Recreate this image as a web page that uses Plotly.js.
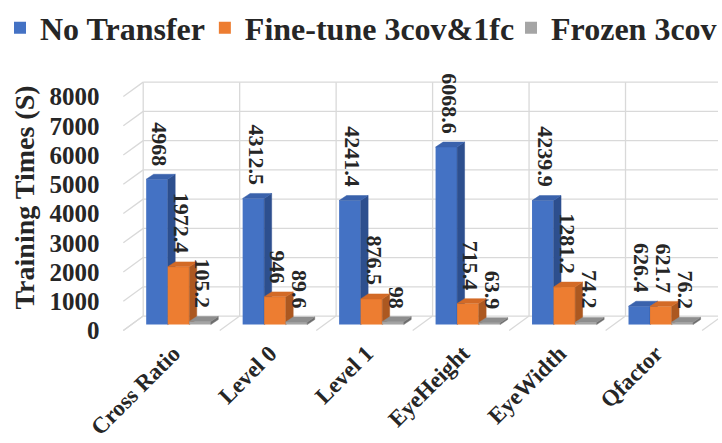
<!DOCTYPE html>
<html>
<head>
<meta charset="utf-8">
<script src="https://cdn.plot.ly/plotly-3.0.1.min.js"></script>
<style>
  html, body { margin: 0; padding: 0; background: #ffffff; }
  #chart { width: 722px; height: 443px; }
</style>
</head>
<body>
<div id="chart"></div>
<script>
// ---- data ----
const categories = ['Cross Ratio', 'Level 0', 'Level 1', 'EyeHeight', 'EyeWidth', 'Qfactor'];
const noTransfer = [4968, 4312.5, 4241.4, 6068.6, 4239.9, 626.4];
const fineTune   = [1972.4, 946, 876.5, 715.4, 1281.2, 621.7];
const frozen     = [105.2, 89.6, 98, 63.9, 74.2, 76.2];
const seriesNames = ['No Transfer', 'Fine-tune 3cov&1fc', 'Frozen 3cov'];
const yTickVals   = [0, 1000, 2000, 3000, 4000, 5000, 6000, 7000, 8000];
const yTickLabels = ['0', '1000', '2000', '3000', '4000', '5000', '6000', '7000', '8000'];

// ---- look ----
const W = 722, H = 443;
const FONT = '"Liberation Serif", "Times New Roman", serif';
const TEXT = '#262626';
const GRID = '#d9d9d9';
const faces = [
  { front: '#4472c4', side: '#2d4f8e', top: '#3a62ac' },
  { front: '#ed7d31', side: '#ac5820', top: '#d36a26' },
  { front: '#a5a5a5', side: '#6e6e6e', top: '#8e8e8e' }
];

// 3-D box geometry (pixels): category pitch, value scale, projected depth
const CAT_PX = 97;
const UNIT_PX = 235 / 8000;
const ORIGIN_X = 179.5;   // centre of first category on the bar plane
const ORIGIN_Y = 324;     // value 0 on the bar plane
const PLOT_LEFT = 105;
const BAR_DEPTH = { x: 7.5, y: 5 };
const WALL_BACK = { x: 13, y: 8.5 };
const WALL_FRONT = { x: -7, y: -6 };
const GROUP = 0.67;
const BW = GROUP / 3;

const toX = px => (px - ORIGIN_X) / CAT_PX;
const toY = py => (ORIGIN_Y - py) / UNIT_PX;
const dX = px => px / CAT_PX;
const dY = px => px / UNIT_PX;

const xRange = [toX(PLOT_LEFT), toX(W)];
const yRange = [toY(H), toY(0)];
const idx = categories.map((_, i) => i);
const series = [noTransfer, fineTune, frozen];

// ---- traces: front face as bars, side and top faces as filled polygons ----
const traces = [];
series.forEach((vals, s) => {
  const xa = s === 0 ? 'x' : 'x' + (s + 1);
  const ya = s === 0 ? 'y' : 'y' + (s + 1);
  const off = -GROUP / 2 + s * BW;
  const ddx = dX(BAR_DEPTH.x), ddy = dY(BAR_DEPTH.y);

  traces.push({
    type: 'bar', x: idx, y: vals, width: BW, offset: off,
    name: seriesNames[s], xaxis: xa, yaxis: ya,
    legend: s === 0 ? 'legend' : 'legend' + (s + 1),
    marker: { color: faces[s].front, line: { width: 0 } },
    hovertemplate: '%{y}<extra>' + seriesNames[s] + '</extra>'
  });

  const sx = [], sy = [], tx = [], ty = [];
  vals.forEach((v, i) => {
    const xl = i + off, xr = xl + BW;
    sx.push(xr, xr + ddx, xr + ddx, xr, xr, null);
    sy.push(0, ddy, v + ddy, v, 0, null);
    tx.push(xl, xl + ddx, xr + ddx, xr, xl, null);
    ty.push(v, v + ddy, v + ddy, v, v, null);
  });
  traces.push({
    type: 'scatter', mode: 'lines', x: sx, y: sy, xaxis: xa, yaxis: ya,
    fill: 'toself', fillcolor: faces[s].side,
    line: { width: 0.5, color: faces[s].side },
    showlegend: false, hoverinfo: 'skip'
  });
  traces.push({
    type: 'scatter', mode: 'lines', x: tx, y: ty, xaxis: xa, yaxis: ya,
    fill: 'toself', fillcolor: faces[s].top,
    line: { width: 0.5, color: faces[s].top },
    showlegend: false, hoverinfo: 'skip'
  });
});

// ---- walls: back-wall grid, left-wall and floor depth lines ----
const shapes = [];
const line = (x0, y0, x1, y1) => ({
  type: 'line', xref: 'x', yref: 'y', layer: 'below',
  x0, y0, x1, y1, line: { color: GRID, width: 1.3 }
});
const bx = dX(WALL_BACK.x), by = dY(WALL_BACK.y);
const fx = dX(WALL_FRONT.x), fy = dY(WALL_FRONT.y);
const yTop = yTickVals[yTickVals.length - 1];
yTickVals.forEach(v => {
  shapes.push(line(-0.5 + bx, v + by, xRange[1], v + by));
  shapes.push(line(-0.5 + fx, v + fy, -0.5 + bx, v + by));
});
for (let b = -0.5; b <= categories.length - 0.5; b += 1) {
  shapes.push(line(b + bx, by, b + bx, yTop + by));
  shapes.push(line(b + fx, fy, b + bx, by));
}

// ---- value labels ----
const annotations = [];
series.forEach((vals, s) => {
  const off = -GROUP / 2 + s * BW;
  vals.forEach((v, i) => {
    annotations.push({
      xref: 'x', yref: 'y', x: i + off + BW / 2 + dX(3), y: v,
      yshift: 11, text: '<b>' + String(v) + '</b>', textangle: 90, showarrow: false,
      xanchor: 'center', yanchor: 'bottom',
      font: { family: FONT, size: 22, color: TEXT }
    });
  });
});
annotations.push({
  xref: 'paper', yref: 'paper', x: 25 / W, y: (H - 196.5) / H,
  text: '<b>Training Times (S)</b>', textangle: -90, showarrow: false,
  xanchor: 'center', yanchor: 'middle',
  font: { family: FONT, size: 28, color: TEXT }
});

const hidden = { visible: false, fixedrange: true };
const legendFont = { family: FONT, size: 32, color: TEXT, weight: 'bold' };
const legendBase = { orientation: 'h', bgcolor: 'rgba(0,0,0,0)', font: legendFont,
                     xanchor: 'left', yanchor: 'middle', y: (H - 26) / H };

const layout = {
  width: W, height: H,
  font: { family: FONT, color: TEXT, weight: 'bold' },
  margin: { l: 0, r: 0, t: 0, b: 0 },
  paper_bgcolor: '#ffffff', plot_bgcolor: 'rgba(0,0,0,0)',
  xaxis: {
    domain: [PLOT_LEFT / W, 1], range: xRange, fixedrange: true,
    showgrid: false, zeroline: false, showline: false, ticks: '',
    tickvals: idx, ticktext: categories.map(c => '<b>' + c + '</b>'), tickangle: -45,
    anchor: 'free', position: (H - 334) / H, ticklabelshift: -5,
    tickfont: { family: FONT, size: 23, color: TEXT }
  },
  yaxis: {
    domain: [0, 1], range: yRange, fixedrange: true,
    showgrid: false, zeroline: false, showline: false, ticks: '',
    tickvals: yTickVals, ticktext: yTickLabels.map(t => '<b>' + t + '</b>'),
    ticklabelstandoff: 4, ticklabelshift: 6,
    tickfont: { family: FONT, size: 25, color: TEXT }
  },
  xaxis2: Object.assign({ overlaying: 'x', anchor: 'y2', range: xRange }, hidden),
  yaxis2: Object.assign({ overlaying: 'y', anchor: 'x2', range: yRange }, hidden),
  xaxis3: Object.assign({ overlaying: 'x', anchor: 'y3', range: xRange }, hidden),
  yaxis3: Object.assign({ overlaying: 'y', anchor: 'x3', range: yRange }, hidden),
  legend: Object.assign({ x: 0 }, legendBase),
  legend2: Object.assign({ x: 206 / W }, legendBase),
  legend3: Object.assign({ x: 514 / W }, legendBase),
  shapes, annotations
};

Plotly.newPlot('chart', traces, layout, { displayModeBar: false, staticPlot: true });
</script>
</body>
</html>
